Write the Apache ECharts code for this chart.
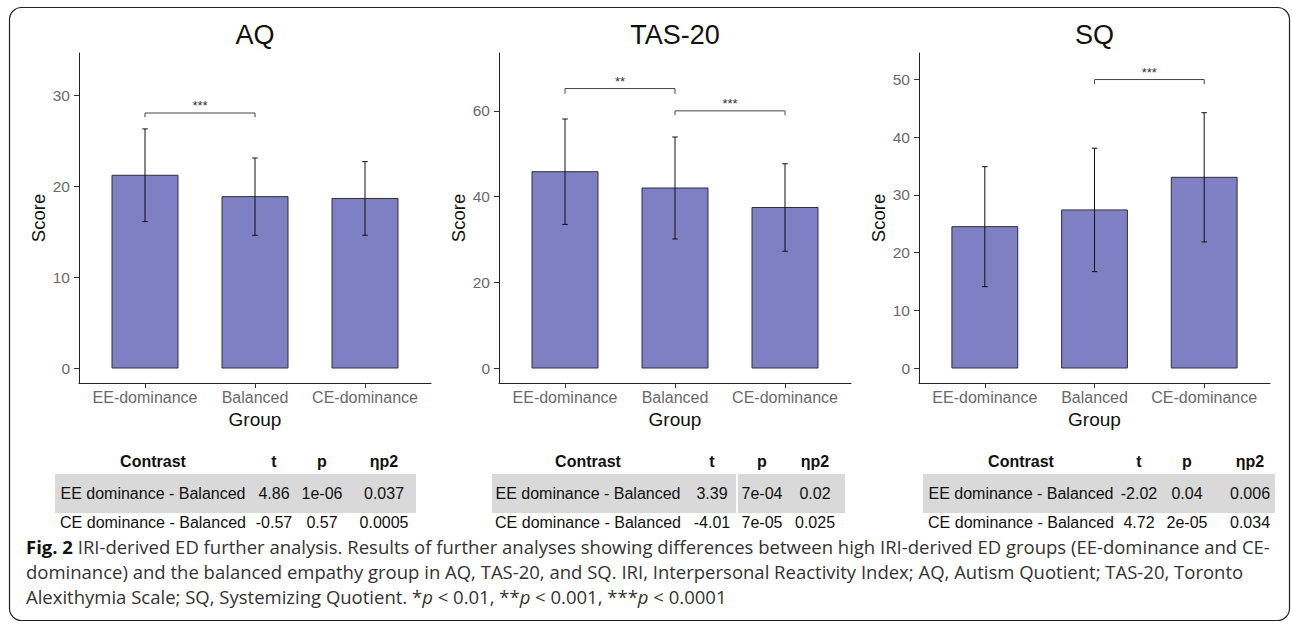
<!DOCTYPE html>
<html>
<head>
<meta charset="utf-8">
<script src="https://cdn.jsdelivr.net/npm/echarts@6/dist/echarts.min.js"></script>
<style>
html,body{margin:0;padding:0;background:#fff;}
#c{width:1292px;height:628px;}
</style>
</head>
<body>
<div id="c"></div>
<script>
// ---------------- data ----------------
const groups = ['EE-dominance', 'Balanced', 'CE-dominance'];

const aqMean = [21.2, 18.85, 18.65];
const aqSD   = [5.1, 4.25, 4.05];
const aqTicks = [0, 10, 20, 30];
const aqBrackets = [[1, 2, 28.05, 27.6]];
const aqStars = ['***'];

const tasMean = [45.8, 42.0, 37.45];
const tasSD   = [12.3, 11.9, 10.2];
const tasTicks = [0, 20, 40, 60];
const tasBrackets = [[1, 2, 65.2, 64.0], [2, 3, 60.0, 59.0]];
const tasStars = ['**', '***'];

const sqMean = [24.5, 27.4, 33.05];
const sqSD   = [10.4, 10.7, 11.2];
const sqTicks = [0, 10, 20, 30, 40, 50];
const sqBrackets = [[2, 3, 50.0, 49.2]];
const sqStars = ['***'];

const tableHeader = ['Contrast', 't', 'p', 'ηp2'];
const aqTable = [
  ['EE dominance - Balanced', '4.86', '1e-06', '0.037'],
  ['CE dominance - Balanced', '-0.57', '0.57', '0.0005']
];
const tasTable = [
  ['EE dominance - Balanced', '3.39', '7e-04', '0.02'],
  ['CE dominance - Balanced', '-4.01', '7e-05', '0.025']
];
const sqTable = [
  ['EE dominance - Balanced', '-2.02', '0.04', '0.006'],
  ['CE dominance - Balanced', '4.72', '2e-05', '0.034']
];

const captionLines = [
  '{b|Fig. 2} IRI-derived ED further analysis. Results of further analyses showing differences between high IRI-derived ED groups (EE-dominance and CE-',
  'dominance) and the balanced empathy group in AQ, TAS-20, and SQ. IRI, Interpersonal Reactivity Index; AQ, Autism Quotient; TAS-20, Toronto',
  'Alexithymia Scale; SQ, Systemizing Quotient. *{i|p} < 0.01, **{i|p} < 0.001, ***{i|p} < 0.0001'
];

// ---------------- layout / style ----------------
const FONT = "'Liberation Sans', Arial, sans-serif";
const CAPFONT = "'Open Sans', 'Noto Sans', sans-serif";
const BAR = '#7f7fc4';
const GRID_TOP = 53, GRID_H = 330;
const CAP_SIZE = 18.5;

const panels = [
  {title: 'AQ', left: 79, width: 352, yMin: -1.65, yMax: 34.65, ticks: aqTicks,
   mean: aqMean, sd: aqSD, br: aqBrackets, stars: aqStars,
   table: aqTable, cols: [153, 274, 322, 384], band: [55, 416], seps: []},
  {title: 'TAS-20', left: 499, width: 352, yMin: -3.5, yMax: 73.5, ticks: tasTicks,
   mean: tasMean, sd: tasSD, br: tasBrackets, stars: tasStars,
   table: tasTable, cols: [588, 712, 762, 815], band: [492, 845], seps: [737]},
  {title: 'SQ', left: 919, width: 351, yMin: -2.6, yMax: 54.6, ticks: sqTicks,
   mean: sqMean, sd: sqSD, br: sqBrackets, stars: sqStars,
   table: sqTable, cols: [1021, 1139, 1187, 1250], band: [923, 1275], seps: []}
];

const grid = [], xAxis = [], yAxis = [], series = [], graphic = [];

panels.forEach((p, i) => {
  grid.push({left: p.left, top: GRID_TOP, width: p.width, height: GRID_H});
  xAxis.push({
    gridIndex: i, type: 'value', min: 0.4, max: 3.6,
    axisLine: {show: true, onZero: false, lineStyle: {color: '#222', width: 1}},
    splitLine: {show: false},
    axisTick: {show: true, customValues: [1, 2, 3], length: 5, lineStyle: {color: '#333', width: 1}},
    axisLabel: {show: true, customValues: [1, 2, 3], formatter: v => groups[Math.round(v) - 1],
      color: '#6a6a6a', fontSize: 16, fontFamily: FONT, margin: 6},
    name: 'Group', nameLocation: 'middle', nameGap: 20,
    nameTextStyle: {fontSize: 19, color: '#111', fontFamily: FONT}
  });
  yAxis.push({
    gridIndex: i, type: 'value', min: p.yMin, max: p.yMax,
    axisLine: {show: true, onZero: false, lineStyle: {color: '#222', width: 1}},
    splitLine: {show: false},
    axisTick: {show: true, customValues: p.ticks, length: 5, lineStyle: {color: '#333', width: 1}},
    axisLabel: {show: true, customValues: p.ticks, color: '#6a6a6a', fontSize: 15.5, fontFamily: FONT, margin: 9},
    name: 'Score', nameLocation: 'middle', nameGap: 31, nameRotate: 90,
    nameTextStyle: {fontSize: 18.5, color: '#111', fontFamily: FONT}
  });

  // bars
  series.push({
    type: 'custom', xAxisIndex: i, yAxisIndex: i,
    data: p.mean.map((m, j) => [j + 1, m]),
    encode: {x: 0, y: 1},
    renderItem: (params, api) => {
      const x = api.value(0), v = api.value(1);
      const a = api.coord([x - 0.3, v]);
      const b = api.coord([x + 0.3, 0]);
      return {type: 'rect',
        shape: {x: a[0], y: a[1], width: b[0] - a[0], height: b[1] - a[1]},
        style: {fill: BAR, stroke: '#2e2e3a', lineWidth: 1}};
    }
  });
  // error bars (mean ± sd)
  series.push({
    type: 'custom', xAxisIndex: i, yAxisIndex: i,
    data: p.mean.map((m, j) => [j + 1, m - p.sd[j], m + p.sd[j]]),
    encode: {x: 0, y: [1, 2]},
    renderItem: (params, api) => {
      const x = api.value(0), lo = api.value(1), hi = api.value(2);
      const t = api.coord([x, hi]), b = api.coord([x, lo]);
      const l = api.coord([x - 0.025, hi])[0], r = api.coord([x + 0.025, hi])[0];
      const st = {stroke: '#111', lineWidth: 1};
      return {type: 'group', children: [
        {type: 'line', shape: {x1: t[0], y1: t[1], x2: b[0], y2: b[1]}, style: st},
        {type: 'line', shape: {x1: l, y1: t[1], x2: r, y2: t[1]}, style: st},
        {type: 'line', shape: {x1: l, y1: b[1], x2: r, y2: b[1]}, style: st}
      ]};
    }
  });
  // significance brackets
  series.push({
    type: 'custom', xAxisIndex: i, yAxisIndex: i,
    data: p.br,
    encode: {x: [0, 1], y: [2, 3]},
    renderItem: (params, api) => {
      const x1 = api.value(0), x2 = api.value(1), y = api.value(2), tip = api.value(3);
      const a = api.coord([x1, tip]), b = api.coord([x1, y]), c = api.coord([x2, y]), d = api.coord([x2, tip]);
      return {type: 'group', children: [
        {type: 'polyline', shape: {points: [a, b, c, d]}, style: {stroke: '#444', lineWidth: 1, fill: 'none'}},
        {type: 'text', x: (b[0] + c[0]) / 2, y: b[1] - 1,
          style: {text: p.stars[params.dataIndex], align: 'center', verticalAlign: 'bottom',
            fontSize: 13, fontFamily: FONT, fill: '#333'}}
      ]};
    }
  });

  // title
  graphic.push({type: 'text', x: p.left + p.width / 2, y: 35,
    style: {text: p.title, align: 'center', verticalAlign: 'middle', fontSize: 27, fontFamily: FONT, fill: '#111'}});

  // table
  graphic.push({type: 'rect', shape: {x: p.band[0], y: 474, width: p.band[1] - p.band[0], height: 39},
    style: {fill: '#d9d9d9'}});
  p.seps.forEach(sx => graphic.push({type: 'rect', shape: {x: sx - 1, y: 474, width: 2, height: 39}, style: {fill: '#fff'}}));
  tableHeader.forEach((h, k) => graphic.push({type: 'text', x: p.cols[k], y: 461,
    style: {text: h, align: 'center', verticalAlign: 'middle', fontSize: 16, fontWeight: 'bold', fontFamily: FONT, fill: '#111'}}));
  p.table.forEach((row, r) => row.forEach((cell, k) => graphic.push({type: 'text', x: p.cols[k], y: 493 + r * 29,
    style: {text: cell, align: 'center', verticalAlign: 'middle', fontSize: 16, fontFamily: FONT, fill: '#111'}})));
});

// caption
captionLines.forEach((line, k) => graphic.push({type: 'text', x: 26, y: 546 + k * 25,
  style: {text: line, align: 'left', verticalAlign: 'middle', fontSize: CAP_SIZE, lineHeight: 22,
    fontFamily: CAPFONT, fill: '#333',
    rich: {
      b: {fontSize: CAP_SIZE, lineHeight: 22, fontFamily: CAPFONT, fontWeight: 'bold', fill: '#111'},
      i: {fontSize: CAP_SIZE, lineHeight: 22, fontFamily: CAPFONT, fontStyle: 'italic', fill: '#333'}
    }}}));

// outer frame
graphic.push({type: 'rect', shape: {x: 9.5, y: 7.5, width: 1280, height: 613, r: 12},
  style: {fill: 'none', stroke: '#222', lineWidth: 1.2}, z: 100});

const chart = echarts.init(document.getElementById('c'), null, {renderer: 'svg'});
chart.setOption({
  animation: false,
  backgroundColor: '#fff',
  grid, xAxis, yAxis, series, graphic
});
</script>
</body>
</html>
